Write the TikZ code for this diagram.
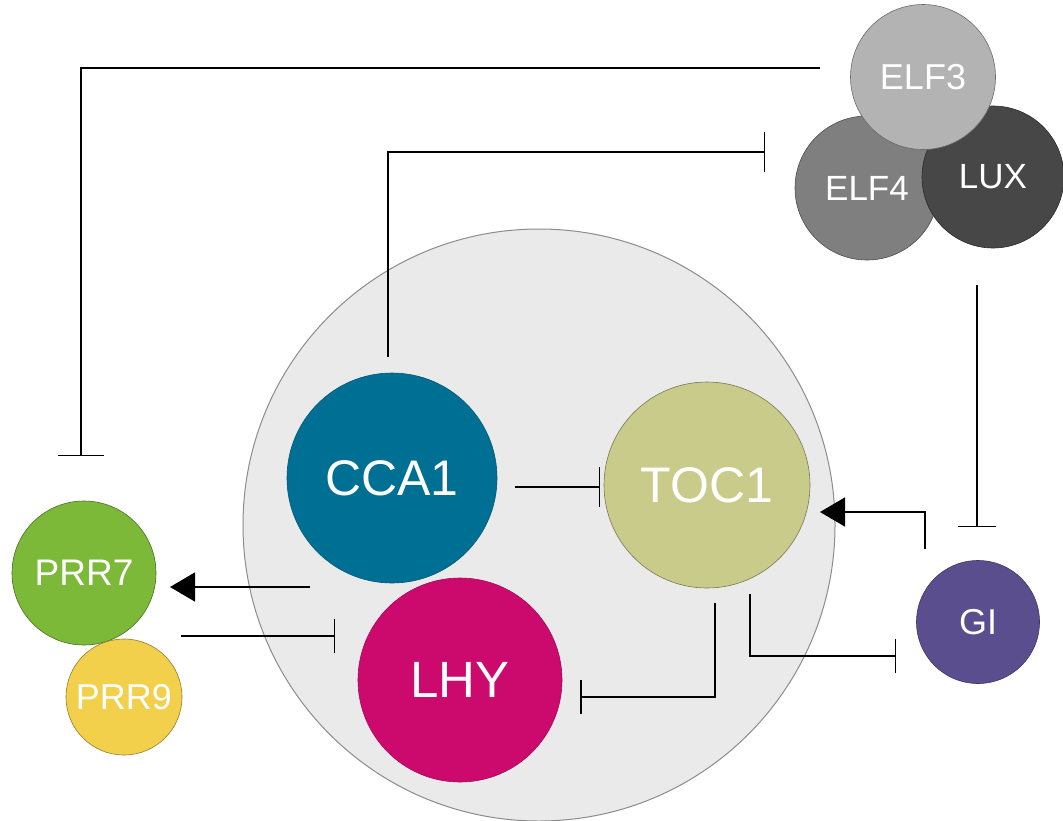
\documentclass[tikz,border=0pt]{standalone}
\usepackage{fontspec}
\setmainfont{Liberation Sans}
\usetikzlibrary{arrows.meta}
\definecolor{bigfill}{HTML}{EAEAEA}
\definecolor{bigline}{HTML}{8C8C8C}
\definecolor{ccaC}{HTML}{006F94}
\definecolor{tocC}{HTML}{C9CB8B}
\definecolor{lhyC}{HTML}{CC0A6E}
\definecolor{prr7C}{HTML}{7CB939}
\definecolor{prr9C}{HTML}{F2D04C}
\definecolor{giC}{HTML}{5A4E8E}
\definecolor{elf3C}{HTML}{B3B3B3}
\definecolor{elf4C}{HTML}{7F7F7F}
\definecolor{luxC}{HTML}{474747}
\tikzset{
  gene/.style={circle, inner sep=0pt, text=white, line width=0.6pt, font=\fontsize{#1}{#1}\selectfont},
  inhib/.style={line width=1.5pt, -{Bar[width=#1, line width=1.5pt]}},
  inhib/.default=38pt,
  activ/.style={line width=1.5pt, -{Triangle[length=25pt, width=29pt]}},
}
\begin{document}
\begin{tikzpicture}[x=1pt, y=-1pt]
\useasboundingbox (0,0) rectangle (1063,820);
% background circle
\node[circle, minimum size=592pt, fill=bigfill, draw=bigline, line width=1pt] (core) at (539,525) {};
% genes
\node[gene=50, minimum size=210pt, fill=ccaC, draw=ccaC!80!black] (cca1) at (392,478) {CCA1};
\node[gene=50, minimum size=206pt, fill=tocC, draw=tocC!60!black] (toc1) at (707,485) {TOC1};
\node[gene=51, minimum size=204pt, fill=lhyC, draw=lhyC!80!black] (lhy) at (460,680) {LHY};
\node[gene=37, minimum size=144pt, fill=prr7C, draw=prr7C!60!black] (prr7) at (84,573) {PRR7};
\node[gene=36, minimum size=116pt, fill=prr9C, draw=prr9C!60!black] (prr9) at (124,697) {PRR9};
\node[gene=36, minimum size=123pt, fill=giC, draw=giC!70!black] (gi) at (978,622) {GI};
\node[gene=35, minimum size=144pt, fill=elf4C, draw=elf4C!60!black] (elf4) at (867,188) {ELF4};
\node[gene=35, minimum size=142pt, fill=luxC, draw=luxC!60!black] (lux) at (993,177) {LUX};
\node[gene=36, minimum size=145pt, fill=elf3C, draw=elf3C!60!black] (elf3) at (923,77) {ELF3};
% connector endpoints
\coordinate (e3out) at (820,68);
\coordinate (prr7in) at (81,456);
\coordinate (ccaup) at (388,357);
\coordinate (elfin) at (765,152);
\coordinate (ccaright) at (515,487);
\coordinate (tocleft) at (600,487);
\coordinate (coreout) at (310,587);
\coordinate (prr7tip) at (170,587);
\coordinate (prrout) at (181,636);
\coordinate (lhyleft) at (335,636);
\coordinate (tocdown) at (715,603);
\coordinate (lhyright) at (580,697);
\coordinate (tocdown2) at (750,594);
\coordinate (gileft) at (896,656);
\coordinate (giup) at (925,549);
\coordinate (tocright) at (820,512);
\coordinate (luxdown) at (977,285);
\coordinate (gitop) at (977,527);
% connectors
\draw[inhib=46pt] (e3out) -- (prr7in |- e3out) -- (prr7in);
\draw[inhib=40pt] (ccaup) |- (elfin);
\draw[inhib=40pt] (ccaright) -- (tocleft);
\draw[activ] (coreout) -- (prr7tip);
\draw[inhib=34pt] (prrout) -- (lhyleft);
\draw[inhib=34pt] (tocdown) |- (lhyright);
\draw[inhib=34pt] (tocdown2) |- (gileft);
\draw[activ] (giup) |- (tocright);
\draw[inhib=38pt] (luxdown) -- (gitop);
\end{tikzpicture}
\end{document}
